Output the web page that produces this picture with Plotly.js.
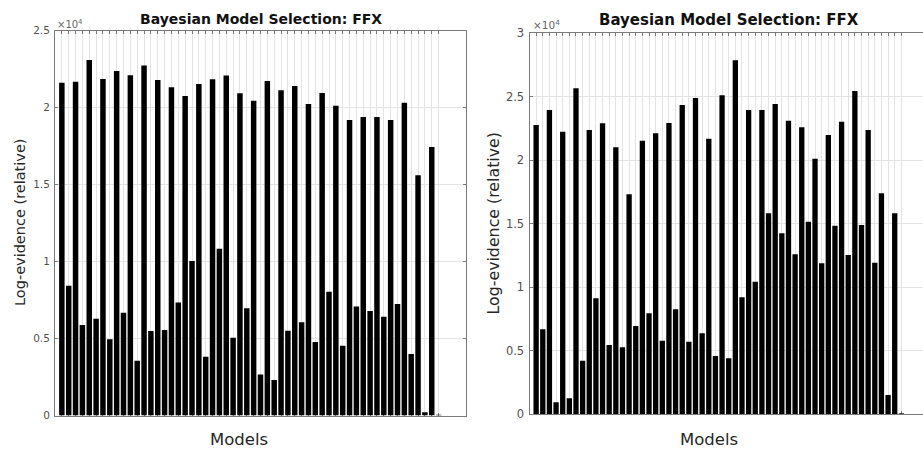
<!DOCTYPE html>
<html>
<head>
<meta charset="utf-8">
<script src="https://cdn.plot.ly/plotly-3.0.1.min.js"></script>
<style>html,body{margin:0;padding:0;background:#fff;}#chart{width:923px;height:453px;}</style>
</head>
<body>
<div id="chart"></div>
<script>
// Model indices (x positions of the bars)
const models = [];
for (let i = 1; i <= 56; i++) models.push(i);

// Left panel: log-evidence (relative), one value per model
const leftEvidence = [
  21610, 8430, 21680, 5880, 23080, 6290, 21850, 4950, 22370, 6680,
  22090, 3560, 22720, 5490, 21790, 5550, 21310, 7330, 20750, 10030,
  21530, 3820, 21830, 10830, 22070, 5050, 20920, 6960, 20440, 2670,
  21720, 2300, 21120, 5510, 21400, 6050, 20230, 4770, 20940, 8040,
  20120, 4530, 19190, 7070, 19380, 6790, 19380, 6420, 19190, 7240,
  20310, 3990, 15600, 210, 17440, 50
];

// Right panel: log-evidence (relative), one value per model
const rightEvidence = [
  22760, 6670, 23940, 920, 22230, 1240, 25650, 4200, 22360, 9110,
  22890, 5430, 21000, 5250, 17300, 6930, 21520, 7930, 22100, 5770,
  22910, 8240, 24330, 5690, 24880, 6350, 21670, 4570, 25090, 4380,
  27850, 9190, 23940, 10420, 23940, 15800, 24410, 14230, 23100, 12570,
  22570, 15140, 20100, 11870, 21970, 14830, 23020, 12520, 25430, 14880,
  22360, 11910, 17380, 1500, 15800, 50
];

// Tick values / labels
const leftTickVals = [0, 5000, 10000, 15000, 20000, 25000];
const leftTickText = ['0', '0.5', '1', '1.5', '2', '2.5'];
const rightTickVals = [0, 5000, 10000, 15000, 20000, 25000, 30000];
const rightTickText = ['0', '0.5', '1', '1.5', '2', '2.5', '3'];

const titleText = 'Bayesian Model Selection: FFX';
const xTitleText = 'Models';
const yTitleText = 'Log-evidence (relative)';
const exponentText = '×10<sup>4</sup>';

const W = 923, H = 453;
const px = v => v / W;
const py = v => (H - v) / H;

const FONT = 'DejaVu Sans, Liberation Sans, sans-serif';
const AXC = '#7a7a7a';
const GRID = '#e3e3e3';

const traces = [
  {type: 'bar', x: models, y: leftEvidence, xaxis: 'x', yaxis: 'y',
   marker: {color: '#000', line: {width: 0}}, hoverinfo: 'x+y'},
  {type: 'bar', x: models, y: rightEvidence, xaxis: 'x2', yaxis: 'y2',
   marker: {color: '#000', line: {width: 0}}, hoverinfo: 'x+y'}
];

const xCommon = {
  tickmode: 'array', tickvals: models, showticklabels: false,
  ticks: 'inside', ticklen: 3, tickwidth: 1, tickcolor: AXC,
  showline: true, linecolor: AXC, linewidth: 1, mirror: 'ticks',
  showgrid: true, gridcolor: GRID, gridwidth: 1, zeroline: false,
  layer: 'below traces', fixedrange: true
};
const yCommon = {
  tickmode: 'array', ticks: 'inside', ticklen: 3, tickwidth: 1, tickcolor: AXC,
  showline: true, linecolor: AXC, linewidth: 1, ticklabelstandoff: 2,
  showgrid: true, gridcolor: GRID, gridwidth: 1, zeroline: false,
  fixedrange: true
};

const layout = {
  width: W, height: H,
  margin: {l: 0, r: 0, t: 0, b: 0, pad: 0},
  paper_bgcolor: '#fff', plot_bgcolor: '#fff',
  showlegend: false, bargap: 0.2,
  xaxis: Object.assign({}, xCommon, {domain: [px(55), px(466)], range: [0, 60], anchor: 'y'}),
  yaxis: Object.assign({}, yCommon, {domain: [py(415.5), py(30.5)], range: [0, 25000],
    tickvals: leftTickVals, ticktext: leftTickText, mirror: 'ticks', anchor: 'x',
    tickfont: {family: FONT, size: 10.5, color: '#505050'}}),
  xaxis2: Object.assign({}, xCommon, {domain: [px(529.5), 1], range: [0, 59.26], anchor: 'y2'}),
  yaxis2: Object.assign({}, yCommon, {domain: [py(414), py(33)], range: [0, 30000],
    tickvals: rightTickVals, ticktext: rightTickText, mirror: false, anchor: 'x2',
    tickfont: {family: FONT, size: 11.5, color: '#505050'}}),
  annotations: [
    {text: '<b>' + titleText + '</b>', xref: 'paper', yref: 'paper', x: px(260.5), y: py(19),
     xanchor: 'center', yanchor: 'middle', showarrow: false, font: {family: FONT, size: 14, color: '#111'}},
    {text: '<b>' + titleText + '</b>', xref: 'paper', yref: 'paper', x: px(728.5), y: py(20),
     xanchor: 'center', yanchor: 'middle', showarrow: false, font: {family: FONT, size: 15, color: '#111'}},
    {text: xTitleText, xref: 'paper', yref: 'paper', x: px(239), y: py(439),
     xanchor: 'center', yanchor: 'middle', showarrow: false, font: {family: FONT, size: 16.5, color: '#262626'}},
    {text: xTitleText, xref: 'paper', yref: 'paper', x: px(708.5), y: py(439),
     xanchor: 'center', yanchor: 'middle', showarrow: false, font: {family: FONT, size: 16.5, color: '#262626'}},
    {text: yTitleText, xref: 'paper', yref: 'paper', x: px(20), y: py(222), textangle: -90,
     xanchor: 'center', yanchor: 'middle', showarrow: false, font: {family: FONT, size: 14.5, color: '#262626'}},
    {text: yTitleText, xref: 'paper', yref: 'paper', x: px(493), y: py(223.5), textangle: -90,
     xanchor: 'center', yanchor: 'middle', showarrow: false, font: {family: FONT, size: 15.8, color: '#262626'}},
    {text: exponentText, xref: 'paper', yref: 'paper', x: px(55), y: py(24),
     xanchor: 'left', yanchor: 'middle', showarrow: false, font: {family: FONT, size: 10, color: '#666'}},
    {text: exponentText, xref: 'paper', yref: 'paper', x: px(531), y: py(24),
     xanchor: 'left', yanchor: 'middle', showarrow: false, font: {family: FONT, size: 10.5, color: '#666'}}
  ]
};

Plotly.newPlot('chart', traces, layout, {displayModeBar: false, staticPlot: true});
</script>
</body>
</html>
